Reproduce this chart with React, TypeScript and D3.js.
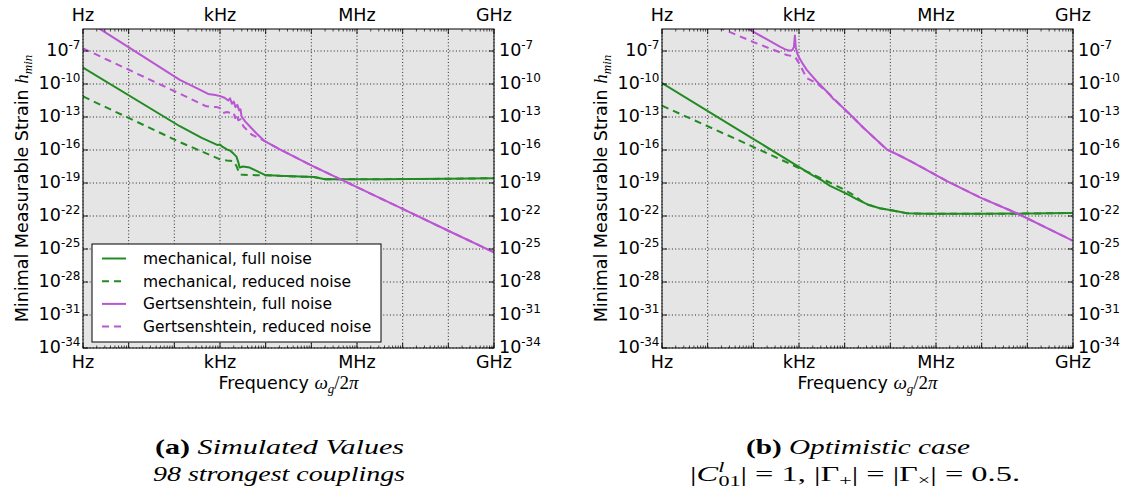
import React from 'react';
import * as d3 from 'd3';

const W = 1126;
const H = 495;
const Y0 = 29;
const Y1 = 348;

// ---- data: log10 of frequency (Hz) and log10 of minimal strain ----
// Panel (a) simulated values
const aMechFullF = [0, 2.12, 2.6, 2.95, 3.0, 3.05, 3.15, 3.22, 3.3, 3.36, 3.4, 3.43, 3.5, 3.65, 3.8, 3.98, 4.3, 4.75, 5.05, 5.3, 6.5, 8.0, 9.0];
const aMechFullH = [-8.5, -13.84, -14.9, -15.55, -15.5, -15.7, -15.95, -16.05, -16.35, -16.6, -17.1, -17.6, -17.5, -17.6, -17.9, -18.27, -18.35, -18.42, -18.45, -18.65, -18.65, -18.62, -18.56];
const aMechRedF = [0, 2.12, 3.0, 3.15, 3.29, 3.36, 3.43, 3.5, 3.65, 3.98, 4.3, 4.75, 5.05, 5.3, 6.5, 8.0, 9.0];
const aMechRedH = [-11.13, -15.28, -16.85, -16.95, -17.0, -17.45, -18.2, -18.26, -18.28, -18.3, -18.35, -18.42, -18.45, -18.65, -18.65, -18.62, -18.56];
const aGertFullF = [0, 1.03, 2.12, 2.5, 2.74, 2.9, 3.0, 3.1, 3.18, 3.22, 3.26, 3.3, 3.34, 3.38, 3.42, 3.45, 3.47, 3.55, 3.65, 3.8, 3.98, 4.31, 5.0, 6.0, 7.0, 8.0, 9.0];
const aGertFullH = [-4.02, -6.74, -9.62, -10.4, -10.9, -11.0, -11.1, -11.25, -11.5, -11.3, -11.8, -11.6, -12.1, -11.9, -12.4, -12.3, -12.93, -13.4, -13.84, -14.5, -15.2, -15.94, -17.4, -19.38, -21.36, -23.34, -25.3];
const aGertRedF = [0, 2.12, 2.7, 2.93, 3.0, 3.07, 3.15, 3.25, 3.3, 3.33, 3.36, 3.4, 3.45, 3.51, 3.69, 3.98, 4.31, 5.0, 6.0, 7.0, 8.0, 9.0];
const aGertRedH = [-6.76, -10.88, -12.03, -12.1, -12.18, -12.63, -12.55, -12.63, -12.6, -13.1, -12.7, -13.3, -13.2, -13.84, -14.59, -15.2, -15.94, -17.4, -19.38, -21.36, -23.34, -25.3];

// Panel (b) optimistic case
const bMechFullF = [0, 1.96, 3.3, 3.5, 3.55, 3.68, 3.9, 4.1, 4.26, 4.5, 4.77, 4.99, 5.2, 5.36, 5.8, 7.0, 8.0, 9.0];
const bMechFullH = [-9.92, -14.89, -18.3, -18.75, -18.9, -19.26, -19.7, -20.1, -20.46, -20.95, -21.3, -21.45, -21.62, -21.75, -21.8, -21.8, -21.78, -21.72];
const bMechRedF = [0, 1.96, 3.5, 3.97, 4.2, 4.35, 4.5, 4.77, 4.99, 5.2, 5.36, 5.8, 7.0, 8.0, 9.0];
const bMechRedH = [-11.97, -15.64, -18.6, -19.56, -20.1, -20.6, -20.95, -21.3, -21.45, -21.62, -21.75, -21.8, -21.8, -21.78, -21.72];
const bGertFullF = [0, 1.89, 2.3, 2.58, 2.7, 2.8, 2.86, 2.89, 2.91, 2.93, 2.96, 2.99, 3.08, 3.17, 3.39, 3.68, 3.75, 3.8, 4.12, 4.41, 4.7, 4.92, 5.2, 5.5, 6.23, 6.96, 7.77, 8.99];
const bGertFullH = [-0.6, -5.0, -5.95, -6.61, -6.85, -6.97, -6.9, -6.6, -5.6, -6.7, -7.2, -7.51, -8.15, -8.72, -9.77, -10.97, -11.35, -11.5, -12.78, -13.98, -15.1, -15.94, -16.5, -17.14, -18.8, -20.3, -21.75, -24.23];
const bGertRedF = [0, 1.42, 2.07, 2.73, 2.91, 3.0, 3.17, 3.39, 3.55, 3.68, 3.75, 3.8, 4.12, 4.41, 4.7, 4.92, 5.2, 5.5, 6.23, 6.96, 7.77, 8.99];
const bGertRedH = [-2.8, -5.17, -6.3, -7.36, -7.51, -8.1, -9.47, -9.92, -10.5, -11.0, -11.35, -11.5, -12.78, -13.98, -15.1, -15.94, -16.5, -17.14, -18.8, -20.3, -21.75, -24.23];

const xTickExps = [0, 3, 6, 9];
const xTickLabels = ['Hz', 'kHz', 'MHz', 'GHz'];
const yTickExps = [-7, -10, -13, -16, -19, -22, -25, -28, -31, -34];
const legendLabels = [
  'mechanical, full noise',
  'mechanical, reduced noise',
  'Gertsenshtein, full noise',
  'Gertsenshtein, reduced noise',
];

const GREEN = '#228b22';
const PURPLE = '#ba55d3';
const SANS = "'DejaVu Sans', sans-serif";
const SERIF = "'Liberation Serif', 'DejaVu Serif', serif";

type Series = { f: number[]; h: number[]; color: string; dashed: boolean };

function Panel({ x0, x1, series, legend, id }: { x0: number; x1: number; series: Series[]; legend: boolean; id: string }) {
  const x = d3.scaleLog().domain([1, 1e9]).range([x0, x1]);
  const y = d3.scaleLog().domain([1e-34, 1e-5]).range([Y1, Y0]);
  const line = d3
    .line<[number, number]>()
    .x((d) => x(d[0]))
    .y((d) => y(d[1]));
  const majors = d3.range(0, 10).map((k) => Math.pow(10, k));
  const minors: number[] = [];
  for (let k = 0; k < 9; k++) for (let m = 2; m < 10; m++) minors.push(m * Math.pow(10, k));
  const cx = (x0 + x1) / 2;
  const cy = (Y0 + Y1) / 2;
  return (
    <g>
      <defs>
        <clipPath id={id}>
          <rect x={x0} y={Y0} width={x1 - x0} height={Y1 - Y0} />
        </clipPath>
      </defs>
      <rect x={x0} y={Y0} width={x1 - x0} height={Y1 - Y0} fill="#e5e5e5" />
      {/* grid */}
      {majors.map((v) => (
        <line key={'gx' + v} x1={x(v)} x2={x(v)} y1={Y0} y2={Y1} stroke="#111" strokeWidth={0.9} strokeDasharray="1,2.3" />
      ))}
      {yTickExps.map((e) => (
        <line key={'gy' + e} x1={x0} x2={x1} y1={y(Math.pow(10, e))} y2={y(Math.pow(10, e))} stroke="#111" strokeWidth={0.9} strokeDasharray="1,2.3" />
      ))}
      {/* series */}
      <g clipPath={`url(#${id})`}>
        {series.map((s, i) => (
          <path
            key={i}
            d={line(s.f.map((e, j) => [Math.pow(10, e), Math.pow(10, s.h[j])] as [number, number])) || ''}
            fill="none"
            stroke={s.color}
            strokeWidth={2}
            strokeDasharray={s.dashed ? '7,5' : undefined}
            strokeLinejoin="round"
          />
        ))}
      </g>
      {/* spines */}
      <rect x={x0} y={Y0} width={x1 - x0} height={Y1 - Y0} fill="none" stroke="#000" strokeWidth={1} />
      {/* ticks */}
      {majors.map((v) => (
        <g key={'tx' + v}>
          <line x1={x(v)} x2={x(v)} y1={Y1} y2={Y1 - 5} stroke="#000" strokeWidth={0.9} />
          <line x1={x(v)} x2={x(v)} y1={Y0} y2={Y0 + 5} stroke="#000" strokeWidth={0.9} />
        </g>
      ))}
      {minors.map((v) => (
        <g key={'mx' + v}>
          <line x1={x(v)} x2={x(v)} y1={Y1} y2={Y1 - 2.5} stroke="#000" strokeWidth={0.7} />
          <line x1={x(v)} x2={x(v)} y1={Y0} y2={Y0 + 2.5} stroke="#000" strokeWidth={0.7} />
        </g>
      ))}
      {yTickExps.map((e) => {
        const yy = y(Math.pow(10, e));
        return (
          <g key={'ty' + e}>
            <line x1={x0} x2={x0 + 5} y1={yy} y2={yy} stroke="#000" strokeWidth={0.9} />
            <line x1={x1} x2={x1 - 5} y1={yy} y2={yy} stroke="#000" strokeWidth={0.9} />
            <text x={x0 - 2.5} y={yy + 5} textAnchor="end" fontFamily={SANS} fontSize={17.5} fill="#000">
              10<tspan fontSize={12} dy={-7}>{String(e)}</tspan>
            </text>
            <text x={x1 + 5} y={yy + 5} textAnchor="start" fontFamily={SANS} fontSize={17.5} fill="#000">
              10<tspan fontSize={12} dy={-7}>{String(e)}</tspan>
            </text>
          </g>
        );
      })}
      {xTickExps.map((e, i) => (
        <g key={'lx' + e}>
          <text x={x(Math.pow(10, e))} y={Y1 + 20} textAnchor="middle" fontFamily={SANS} fontSize={17.5} fill="#000">
            {xTickLabels[i]}
          </text>
          <text x={x(Math.pow(10, e))} y={Y0 - 8.5} textAnchor="middle" fontFamily={SANS} fontSize={17.5} fill="#000">
            {xTickLabels[i]}
          </text>
        </g>
      ))}
      {/* axis labels */}
      <text x={cx} y={389} textAnchor="middle" fontFamily={SANS} fontSize={17.5} fill="#000">
        Frequency{' '}
        <tspan fontFamily={SERIF} fontStyle="italic" fontSize={19}>ω</tspan>
        <tspan fontFamily={SERIF} fontStyle="italic" fontSize={13} dy={4}>g</tspan>
        <tspan fontFamily={SERIF} fontSize={19} dy={-4}>/2</tspan>
        <tspan fontFamily={SERIF} fontStyle="italic" fontSize={19}>π</tspan>
      </text>
      <text
        transform={`translate(${x0 - 55},${cy}) rotate(-90)`}
        textAnchor="middle"
        fontFamily={SANS}
        fontSize={17.5}
        fill="#000"
      >
        Minimal Measurable Strain{' '}
        <tspan fontFamily={SERIF} fontStyle="italic" fontSize={19}>h</tspan>
        <tspan fontFamily={SERIF} fontStyle="italic" fontSize={13} dy={4}>min</tspan>
      </text>
      {legend && (
        <g>
          <rect x={x0 + 9} y={244} width={289} height={98} fill="#fff" stroke="#000" strokeWidth={1} />
          {series.map((s, i) => {
            const ly = 258.5 + i * 22.7;
            return (
              <g key={'lg' + i}>
                <line
                  x1={x0 + 19}
                  x2={x0 + 43}
                  y1={ly}
                  y2={ly}
                  stroke={s.color}
                  strokeWidth={2}
                  strokeDasharray={s.dashed ? '7,5' : undefined}
                />
                <text x={x0 + 60} y={ly + 5.5} fontFamily={SANS} fontSize={15.5} fill="#000">
                  {legendLabels[i]}
                </text>
              </g>
            );
          })}
        </g>
      )}
    </g>
  );
}

export default function App() {
  const aSeries: Series[] = [
    { f: aMechFullF, h: aMechFullH, color: GREEN, dashed: false },
    { f: aMechRedF, h: aMechRedH, color: GREEN, dashed: true },
    { f: aGertFullF, h: aGertFullH, color: PURPLE, dashed: false },
    { f: aGertRedF, h: aGertRedH, color: PURPLE, dashed: true },
  ];
  const bSeries: Series[] = [
    { f: bMechFullF, h: bMechFullH, color: GREEN, dashed: false },
    { f: bMechRedF, h: bMechRedH, color: GREEN, dashed: true },
    { f: bGertFullF, h: bGertFullH, color: PURPLE, dashed: false },
    { f: bGertRedF, h: bGertRedH, color: PURPLE, dashed: true },
  ];
  return (
    <svg width={W} height={H} viewBox={`0 0 ${W} ${H}`} style={{ position: 'absolute', left: 0, top: 0, background: '#fff' }}>
      <rect x={0} y={0} width={W} height={H} fill="#fff" />
      <Panel x0={83} x1={494} series={aSeries} legend={true} id="clipA" />
      <Panel x0={662} x1={1073} series={bSeries} legend={false} id="clipB" />
      {/* captions */}
      <text x={155} y={454} fontFamily={SERIF} fontSize={22} fill="#000" textLength={249} lengthAdjust="spacingAndGlyphs">
        <tspan fontWeight="bold">(a)</tspan>
        <tspan fontStyle="italic"> Simulated Values</tspan>
      </text>
      <text x={153} y={481} fontFamily={SERIF} fontSize={22} fontStyle="italic" fill="#000" textLength={252} lengthAdjust="spacingAndGlyphs">
        98 strongest couplings
      </text>
      <text x={746} y={454} fontFamily={SERIF} fontSize={22} fill="#000" textLength={224} lengthAdjust="spacingAndGlyphs">
        <tspan fontWeight="bold">(b)</tspan>
        <tspan fontStyle="italic"> Optimistic case</tspan>
      </text>
      <text x={690} y={481} fontFamily={SERIF} fontSize={22} fill="#000" textLength={330} lengthAdjust="spacingAndGlyphs">
        |<tspan fontStyle="italic">C</tspan>
        <tspan fontStyle="italic" fontSize={15} dy={-9}>l</tspan>
        <tspan fontSize={15} dx={-4} dy={14}>01</tspan>
        <tspan dy={-5}>| = 1, |Γ</tspan>
        <tspan fontSize={15} dy={4}>+</tspan>
        <tspan dy={-4}>| = |Γ</tspan>
        <tspan fontSize={15} dy={4}>×</tspan>
        <tspan dy={-4}>| = 0.5.</tspan>
      </text>
    </svg>
  );
}
